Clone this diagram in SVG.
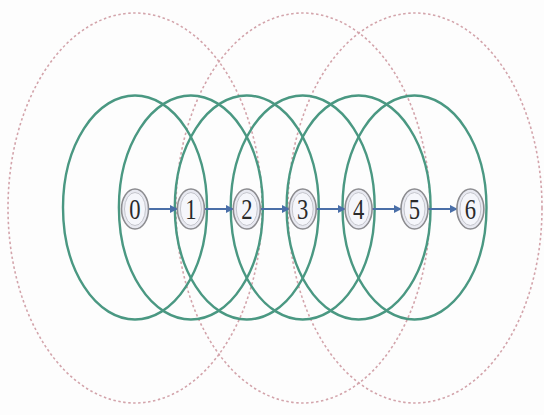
<svg xmlns="http://www.w3.org/2000/svg" width="544" height="415" viewBox="0 0 544 415">
<defs>
<style>
.red{fill:none;stroke:#d3a4ab;stroke-width:1.6;stroke-dasharray:2.5 2.5}
.green{fill:none;stroke:#4a9882;stroke-width:2.4}
.outer{fill:#e8e9f1;stroke:#8c8c90;stroke-width:1.6}
.inner{fill:#f5f6fb;stroke:#c4c5cc;stroke-width:1}
.lbl{font-family:"Liberation Serif","Times New Roman",serif;font-size:29px;fill:#2a2a2a;text-anchor:middle}
.edge{stroke:#4a6fa8;stroke-width:2;fill:none;marker-end:url(#ah)}
</style>
<marker id="ah" viewBox="0 0 10 10" refX="9" refY="5" markerWidth="4" markerHeight="4" orient="auto" markerUnits="strokeWidth">
<path d="M0,0 L10,5 L0,10 z" fill="#4a6fa8"/>
</marker>
</defs>
<rect width="544" height="415" fill="#fdfdfd"/>
<g id="ranges-red">
<ellipse class="red" cx="135" cy="208" rx="127" ry="195"/>
<ellipse class="red" cx="303" cy="208" rx="127" ry="195"/>
<ellipse class="red" cx="415" cy="208" rx="127" ry="195"/>
</g>
<g id="ranges-green">
<ellipse class="green" cx="135" cy="207.5" rx="72" ry="112"/>
<ellipse class="green" cx="190.9" cy="207.5" rx="72" ry="112"/>
<ellipse class="green" cx="246.8" cy="207.5" rx="72" ry="112"/>
<ellipse class="green" cx="302.7" cy="207.5" rx="72" ry="112"/>
<ellipse class="green" cx="358.6" cy="207.5" rx="72" ry="112"/>
<ellipse class="green" cx="414.5" cy="207.5" rx="72" ry="112"/>
</g>
<g id="connectors">
<line class="edge" x1="148" y1="209" x2="177" y2="209"/>
<line class="edge" x1="204" y1="209" x2="233" y2="209"/>
<line class="edge" x1="260" y1="209" x2="289" y2="209"/>
<line class="edge" x1="316" y1="209" x2="345" y2="209"/>
<line class="edge" x1="372" y1="209" x2="401" y2="209"/>
<line class="edge" x1="427" y1="209" x2="457" y2="209"/>
</g>
<g id="n0"><ellipse class="outer" cx="135" cy="209" rx="13.5" ry="20"/><ellipse class="inner" cx="135" cy="209" rx="10.5" ry="16.5"/><text class="lbl" transform="translate(135,219) scale(0.78,1)">0</text></g>
<g id="n1"><ellipse class="outer" cx="190.9" cy="209" rx="13.5" ry="20"/><ellipse class="inner" cx="190.9" cy="209" rx="10.5" ry="16.5"/><text class="lbl" transform="translate(190.9,219) scale(0.78,1)">1</text></g>
<g id="n2"><ellipse class="outer" cx="246.8" cy="209" rx="13.5" ry="20"/><ellipse class="inner" cx="246.8" cy="209" rx="10.5" ry="16.5"/><text class="lbl" transform="translate(246.8,219) scale(0.78,1)">2</text></g>
<g id="n3"><ellipse class="outer" cx="302.7" cy="209" rx="13.5" ry="20"/><ellipse class="inner" cx="302.7" cy="209" rx="10.5" ry="16.5"/><text class="lbl" transform="translate(302.7,219) scale(0.78,1)">3</text></g>
<g id="n4"><ellipse class="outer" cx="358.6" cy="209" rx="13.5" ry="20"/><ellipse class="inner" cx="358.6" cy="209" rx="10.5" ry="16.5"/><text class="lbl" transform="translate(358.6,219) scale(0.78,1)">4</text></g>
<g id="n5"><ellipse class="outer" cx="414.5" cy="209" rx="13.5" ry="20"/><ellipse class="inner" cx="414.5" cy="209" rx="10.5" ry="16.5"/><text class="lbl" transform="translate(414.5,219) scale(0.78,1)">5</text></g>
<g id="n6"><ellipse class="outer" cx="470.4" cy="209" rx="13.5" ry="20"/><ellipse class="inner" cx="470.4" cy="209" rx="10.5" ry="16.5"/><text class="lbl" transform="translate(470.4,219) scale(0.78,1)">6</text></g>
</svg>
